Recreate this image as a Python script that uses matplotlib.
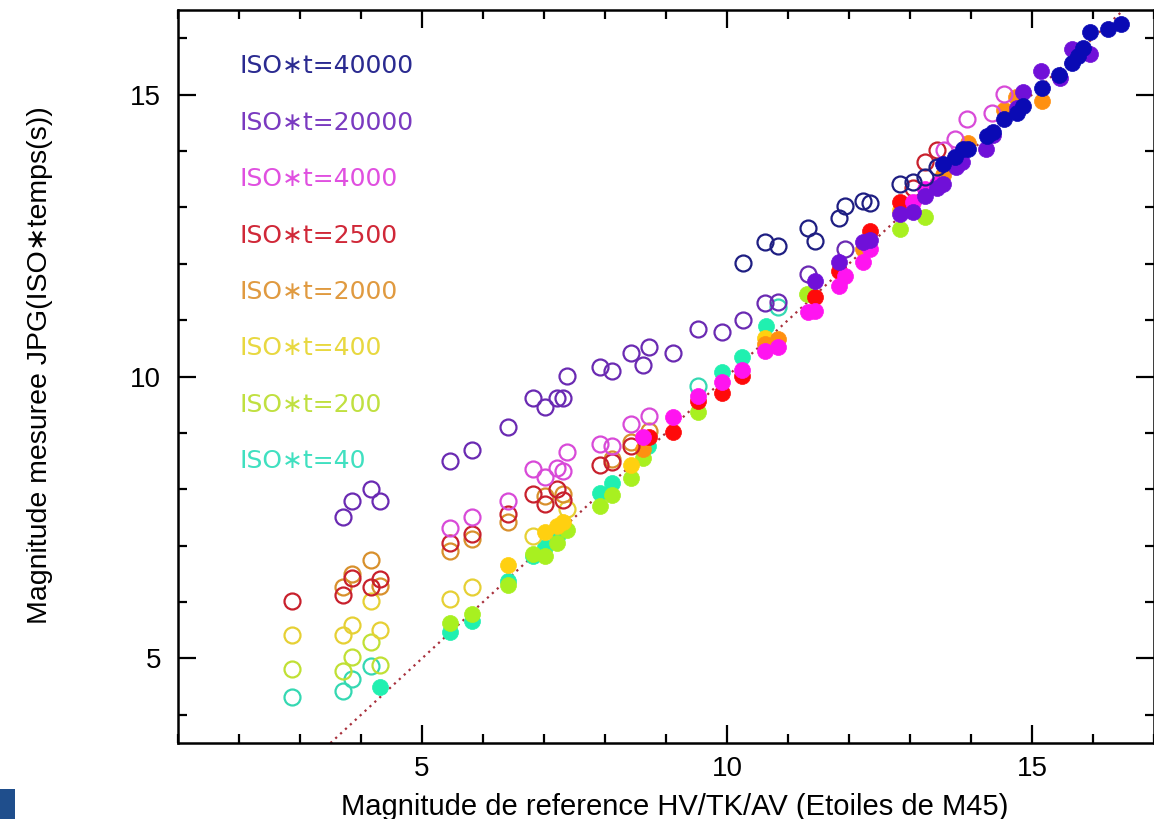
import matplotlib
matplotlib.use("Agg")
import matplotlib.pyplot as plt
from matplotlib.ticker import MultipleLocator
from matplotlib.patches import Rectangle

# ---------------- data ----------------
labels = ["ISO∗t=40000", "ISO∗t=20000", "ISO∗t=4000", "ISO∗t=2500",
          "ISO∗t=2000", "ISO∗t=400", "ISO∗t=200", "ISO∗t=40"]
label_y = [15.5, 14.5, 13.5, 12.5, 11.5, 10.5, 9.5, 8.5]

# ISO*t = 40
s40_open_x = [2.87, 3.70, 3.85, 4.16, 9.52, 10.84]
s40_open_y = [4.31, 4.42, 4.63, 4.86, 9.83, 11.23]
s40_fill_x = [4.31, 5.46, 5.82, 6.41, 6.82, 7.02, 7.21, 7.92, 8.11, 8.70, 9.92, 10.25, 10.64]
s40_fill_y = [4.50, 5.46, 5.67, 6.38, 6.82, 6.98, 7.16, 7.94, 8.12, 8.77, 10.08, 10.35, 10.89]

# ISO*t = 200
s200_open_x = [2.87, 3.70, 3.85, 4.16, 4.31]
s200_open_y = [4.81, 4.77, 5.02, 5.30, 4.88]
s200_fill_x = [5.46, 5.82, 6.41, 6.82, 7.02, 7.21, 7.38, 7.92, 8.11, 8.42, 8.62, 9.52, 11.31, 12.84, 13.25]
s200_fill_y = [5.62, 5.78, 6.31, 6.86, 6.82, 7.05, 7.27, 7.71, 7.90, 8.20, 8.56, 9.37, 11.46, 12.61, 12.82]

# ISO*t = 400
s400_open_x = [2.87, 3.70, 3.85, 4.16, 4.31, 5.46, 5.82, 6.82, 7.38]
s400_open_y = [5.41, 5.41, 5.60, 6.01, 5.51, 6.06, 6.27, 7.18, 7.65]
s400_fill_x = [6.41, 7.02, 7.21, 7.31, 8.42, 10.62, 12.84]
s400_fill_y = [6.66, 7.25, 7.35, 7.42, 8.43, 10.68, 12.95]

# ISO*t = 2000
s2000_open_x = [3.70, 3.85, 4.16, 4.31, 5.46, 5.82, 6.41, 7.02, 7.31, 8.11, 8.42, 8.72]
s2000_open_y = [6.27, 6.50, 6.75, 6.29, 6.91, 7.11, 7.42, 7.88, 7.92, 8.54, 8.84, 9.04]
s2000_fill_x = [8.62, 10.62, 10.84, 12.23, 13.54, 13.95, 14.54, 14.74, 15.16]
s2000_fill_y = [8.72, 10.58, 10.66, 12.26, 13.58, 14.15, 14.72, 14.96, 14.89]

# ISO*t = 2500
s2500_open_x = [2.87, 3.70, 3.85, 4.16, 4.31, 5.46, 5.82, 6.41, 6.82, 7.02, 7.21, 7.31,
                7.92, 8.11, 8.42, 13.05, 13.25, 13.44]
s2500_open_y = [6.01, 6.13, 6.42, 6.26, 6.40, 7.04, 7.21, 7.57, 7.92, 7.74, 8.01, 7.81,
                8.43, 8.49, 8.77, 13.35, 13.81, 14.02]
s2500_fill_x = [8.72, 9.11, 9.52, 9.92, 10.25, 11.44, 11.84, 12.34, 12.84]
s2500_fill_y = [8.93, 9.02, 9.57, 9.71, 10.01, 11.41, 11.87, 12.58, 13.09]

# ISO*t = 4000
s4000_open_x = [5.46, 5.82, 6.41, 6.82, 7.02, 7.21, 7.31, 7.38, 7.92, 8.11, 8.42, 8.72,
                13.56, 13.74, 13.93, 14.34, 14.54]
s4000_open_y = [7.32, 7.51, 7.80, 8.36, 8.22, 8.38, 8.33, 8.66, 8.81, 8.77, 9.16, 9.30,
                14.02, 14.22, 14.57, 14.67, 15.01]
s4000_fill_x = [8.62, 9.11, 9.52, 9.92, 10.25, 10.62, 10.84, 11.33, 11.44, 11.84, 11.93,
                12.23, 12.34, 13.05, 13.25, 13.44]
s4000_fill_y = [8.93, 9.28, 9.66, 9.90, 10.12, 10.45, 10.52, 11.14, 11.16, 11.60, 11.78,
                12.03, 12.27, 13.09, 13.32, 13.41]

# ISO*t = 20000
s20000_open_x = [3.70, 3.85, 4.16, 4.31, 5.46, 5.82, 6.41, 6.82, 7.02, 7.21, 7.31, 7.38,
                 7.92, 8.11, 8.42, 8.62, 8.72, 9.11, 9.52, 9.92, 10.26, 10.62, 10.84,
                 11.33, 11.93]
s20000_open_y = [7.51, 7.80, 8.01, 7.80, 8.50, 8.70, 9.11, 9.62, 9.46, 9.62, 9.62, 10.01,
                 10.17, 10.10, 10.42, 10.20, 10.52, 10.42, 10.84, 10.79, 11.00, 11.30, 11.32,
                 11.81, 12.27]
s20000_fill_x = [11.44, 11.84, 12.23, 12.34, 12.84, 13.05, 13.25, 13.44, 13.54, 13.75,
                 13.85, 14.25, 14.36, 14.75, 14.85, 15.15, 15.46, 15.66, 15.95]
s20000_fill_y = [11.69, 12.03, 12.38, 12.42, 12.88, 12.91, 13.21, 13.35, 13.42, 13.71,
                 13.80, 14.03, 14.29, 14.77, 15.05, 15.41, 15.30, 15.81, 15.72]

# ISO*t = 40000
s40000_open_x = [10.26, 10.62, 10.84, 11.33, 11.44, 11.84, 11.93, 12.23, 12.34, 12.84,
                 13.05, 13.25, 13.44]
s40000_open_y = [12.01, 12.38, 12.31, 12.63, 12.40, 12.81, 13.02, 13.11, 13.07, 13.41,
                 13.45, 13.53, 13.71]
s40000_fill_x = [13.54, 13.74, 13.87, 13.95, 14.26, 14.36, 14.54, 14.75, 14.85, 15.16,
                 15.44, 15.66, 15.75, 15.84, 15.95, 16.25, 16.46]
s40000_fill_y = [13.76, 13.90, 14.03, 14.03, 14.27, 14.33, 14.57, 14.67, 14.80, 15.12,
                 15.35, 15.56, 15.68, 15.83, 16.11, 16.17, 16.26]

# ---------------- styles ----------------
open_colors = ["#1e1e82", "#6a2ab2", "#d84ad8", "#c8202c",
               "#d8902c", "#e6d034", "#c0e034", "#34d8b2"]
fill_colors = ["#0a0ab4", "#7010d8", "#ff14f0", "#ff0a0a",
               "#ff9010", "#ffd010", "#a8f020", "#20f0b0"]
text_colors = ["#2a2a90", "#7a3ac0", "#e050e0", "#d02838",
               "#e09a40", "#e8d840", "#c0e040", "#40e0c0"]

series = [
    (s40000_open_x, s40000_open_y, s40000_fill_x, s40000_fill_y),
    (s20000_open_x, s20000_open_y, s20000_fill_x, s20000_fill_y),
    (s4000_open_x, s4000_open_y, s4000_fill_x, s4000_fill_y),
    (s2500_open_x, s2500_open_y, s2500_fill_x, s2500_fill_y),
    (s2000_open_x, s2000_open_y, s2000_fill_x, s2000_fill_y),
    (s400_open_x, s400_open_y, s400_fill_x, s400_fill_y),
    (s200_open_x, s200_open_y, s200_fill_x, s200_fill_y),
    (s40_open_x, s40_open_y, s40_fill_x, s40_fill_y),
]

sans = ["Liberation Sans", "DejaVu Sans"]

fig = plt.figure(figsize=(11.54, 8.19), dpi=100)
ax = fig.add_axes([178 / 1154, 1 - 743 / 819, 976 / 1154, (743 - 10) / 819])

# reference line y = x
ax.plot([1, 17], [1, 17], linestyle=(0, (1, 2)), color="#a8303c", linewidth=1.6, zorder=1)

# draw from lowest exposure up so higher exposures end on top
for i in range(len(series) - 1, -1, -1):
    ox, oy, fx, fy = series[i]
    z = 2 + (len(series) - i)
    ax.plot(ox, oy, linestyle="none", marker="o", markersize=11.5,
            markerfacecolor="none", markeredgecolor=open_colors[i],
            markeredgewidth=1.6, zorder=z)
    ax.plot(fx, fy, linestyle="none", marker="o", markersize=11.5,
            markerfacecolor=fill_colors[i], markeredgecolor=fill_colors[i],
            markeredgewidth=0.5, zorder=z)

for lab, ly, c in zip(labels, label_y, text_colors):
    ax.text(2.0, ly, lab, color=c, fontsize=18, family=["DejaVu Sans"],
            va="center", ha="left", zorder=20)

ax.set_xlim(1, 17)
ax.set_ylim(3.5, 16.5)
ax.xaxis.set_major_locator(MultipleLocator(5))
ax.xaxis.set_minor_locator(MultipleLocator(1))
ax.yaxis.set_major_locator(MultipleLocator(5))
ax.yaxis.set_minor_locator(MultipleLocator(1))
ax.tick_params(which="both", direction="in", top=True, right=True, width=1.6,
               colors="black")
ax.tick_params(which="major", length=13, labelsize=20)
ax.tick_params(axis="x", which="major", pad=9)
ax.tick_params(axis="y", which="major", pad=12)
ax.tick_params(which="minor", length=6.5)
for lbl in ax.get_xticklabels() + ax.get_yticklabels():
    lbl.set_family(sans)
for sp in ax.spines.values():
    sp.set_linewidth(1.8)

ax.set_xlabel("Magnitude de reference HV/TK/AV (Etoiles de M45)", fontsize=21,
              family=sans, va="baseline")
ax.xaxis.set_label_coords(0.509, (743 - 815) / 733)
ax.set_ylabel("Magnitude mesuree JPG(ISO∗temps(s))", fontsize=20.5,
              family=sans, va="center", ha="center")
ax.yaxis.set_label_coords((40 - 178) / 976, (743 - 365) / 733)

# fragment of a logo in the lower-left corner
fig.patches.append(Rectangle((0, 0), 15 / 1154, 30 / 819, transform=fig.transFigure,
                             facecolor="#1f4e8c", edgecolor="none"))

fig.savefig("out.png", dpi=100)
